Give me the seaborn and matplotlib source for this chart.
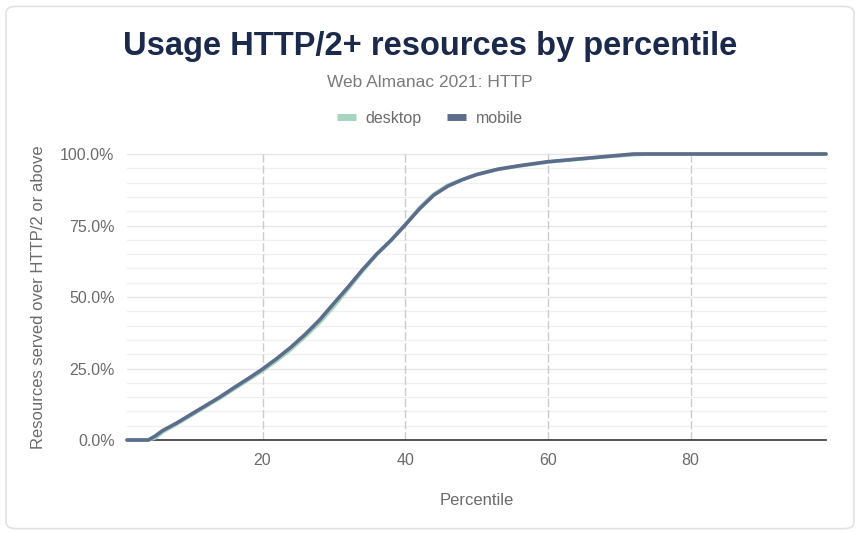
import numpy as np
import pandas as pd
import matplotlib
matplotlib.use('Agg')
import matplotlib.pyplot as plt
from matplotlib.patches import FancyBboxPatch
from matplotlib.lines import Line2D
from matplotlib.ticker import FuncFormatter, MultipleLocator
import seaborn as sns

# percentile positions
mobile_pct = [1, 4, 5, 6, 8, 10, 12, 14, 16, 18, 20, 22, 24, 26, 28, 30, 32, 34, 36, 38,
              40, 42, 44, 46, 48, 50, 53, 56, 60, 64, 68, 72, 76, 80, 90, 99]
mobile_val = [0, 0, 1.5, 3.3, 6.0, 9.0, 12.0, 15.0, 18.3, 21.5, 24.8, 28.5, 32.5, 37.0, 42.0, 47.8,
              53.5, 59.5, 65.0, 69.8, 75.2, 80.8, 85.6, 88.8, 91.0, 92.8, 94.7, 95.9, 97.3, 98.2,
              99.1, 100, 100, 100, 100, 100]
desktop_pct = [1, 4, 5, 6, 8, 10, 12, 14, 16, 18, 20, 22, 24, 26, 28, 30, 32, 34, 36, 38,
               40, 42, 44, 46, 48, 50, 53, 56, 60, 64, 68, 72, 74, 80, 90, 99]
desktop_val = [0, 0, 0.8, 2.8, 5.6, 8.6, 11.6, 14.6, 17.8, 21.0, 24.2, 27.8, 31.7, 36.2, 41.0, 46.7,
               52.8, 59.0, 64.8, 69.8, 75.3, 81.2, 86.0, 89.1, 91.1, 92.8, 94.6, 95.8, 97.2, 98.1,
               99.0, 99.7, 100, 100, 100, 100]

series_names = ['desktop', 'mobile']
series_colors = ['#a6d4bf', '#5c6c8b']

df = pd.concat([
    pd.DataFrame({'percentile': desktop_pct, 'value': desktop_val, 'client': 'desktop'}),
    pd.DataFrame({'percentile': mobile_pct, 'value': mobile_val, 'client': 'mobile'}),
])

sns.set_theme(style='white')
plt.rcParams['font.family'] = ['Liberation Sans', 'DejaVu Sans']

fig = plt.figure(figsize=(8.6, 5.34), dpi=100)
fig.patch.set_facecolor('white')
card = FancyBboxPatch((0.007, 0.01), 0.986, 0.978, boxstyle='round,pad=0,rounding_size=0.012',
                      transform=fig.transFigure, facecolor='white', edgecolor='#e2e2e2', lw=1.2,
                      zorder=-10)
fig.patches.append(card)

ax = fig.add_axes([0.1477, 0.176, 0.8128, 0.5356])
ax.set_facecolor('none')

# grid
for v in np.arange(5, 101, 5):
    ax.axhline(v, color='#f0f0f0' if v % 25 else '#e6e6e6', lw=1, zorder=0, clip_on=False)
for v in [20, 40, 60, 80]:
    ax.axvline(v, color='#cccccc', lw=1, ls=(0, (6, 2)), zorder=0)

sns.lineplot(data=df, x='percentile', y='value', hue='client', hue_order=series_names,
             palette=series_colors, lw=2.6, ax=ax, legend=False, clip_on=False, zorder=3)

ax.set_xlim(1, 99)
ax.set_ylim(0, 100)
ax.xaxis.set_major_locator(MultipleLocator(20))
ax.yaxis.set_major_locator(MultipleLocator(25))
ax.yaxis.set_major_formatter(FuncFormatter(lambda v, p: f'{v:.1f}%'))
ax.tick_params(axis='both', length=0, labelsize=11.5, labelcolor='#6b6b6b')
ax.tick_params(axis='x', pad=9)
ax.tick_params(axis='y', pad=9)
for s in ['top', 'right', 'left']:
    ax.spines[s].set_visible(False)
ax.spines['bottom'].set_color('#444444')
ax.spines['bottom'].set_linewidth(1.3)

ax.set_xlabel('Percentile', fontsize=12, color='#6b6b6b', labelpad=18)
ax.set_ylabel('Resources served over HTTP/2 or above', fontsize=12, color='#6b6b6b', labelpad=10)

fig.text(0.5, 0.913, 'Usage HTTP/2+ resources by percentile', ha='center', va='center',
         fontsize=23.5, fontweight='bold', color='#1b2a4a')
fig.text(0.5, 0.845, 'Web Almanac 2021: HTTP', ha='center', va='center',
         fontsize=12.5, color='#7a7a7a')

handles = [Line2D([0], [0], color=c, lw=5, solid_capstyle='butt') for c in series_colors]
fig.legend(handles, series_names, loc='center', bbox_to_anchor=(0.5, 0.779), ncol=2,
           frameon=False, fontsize=11.5, labelcolor='#6b6b6b', handlelength=1.2,
           handletextpad=0.6, columnspacing=1.6)

fig.savefig('out.png', dpi=100)
